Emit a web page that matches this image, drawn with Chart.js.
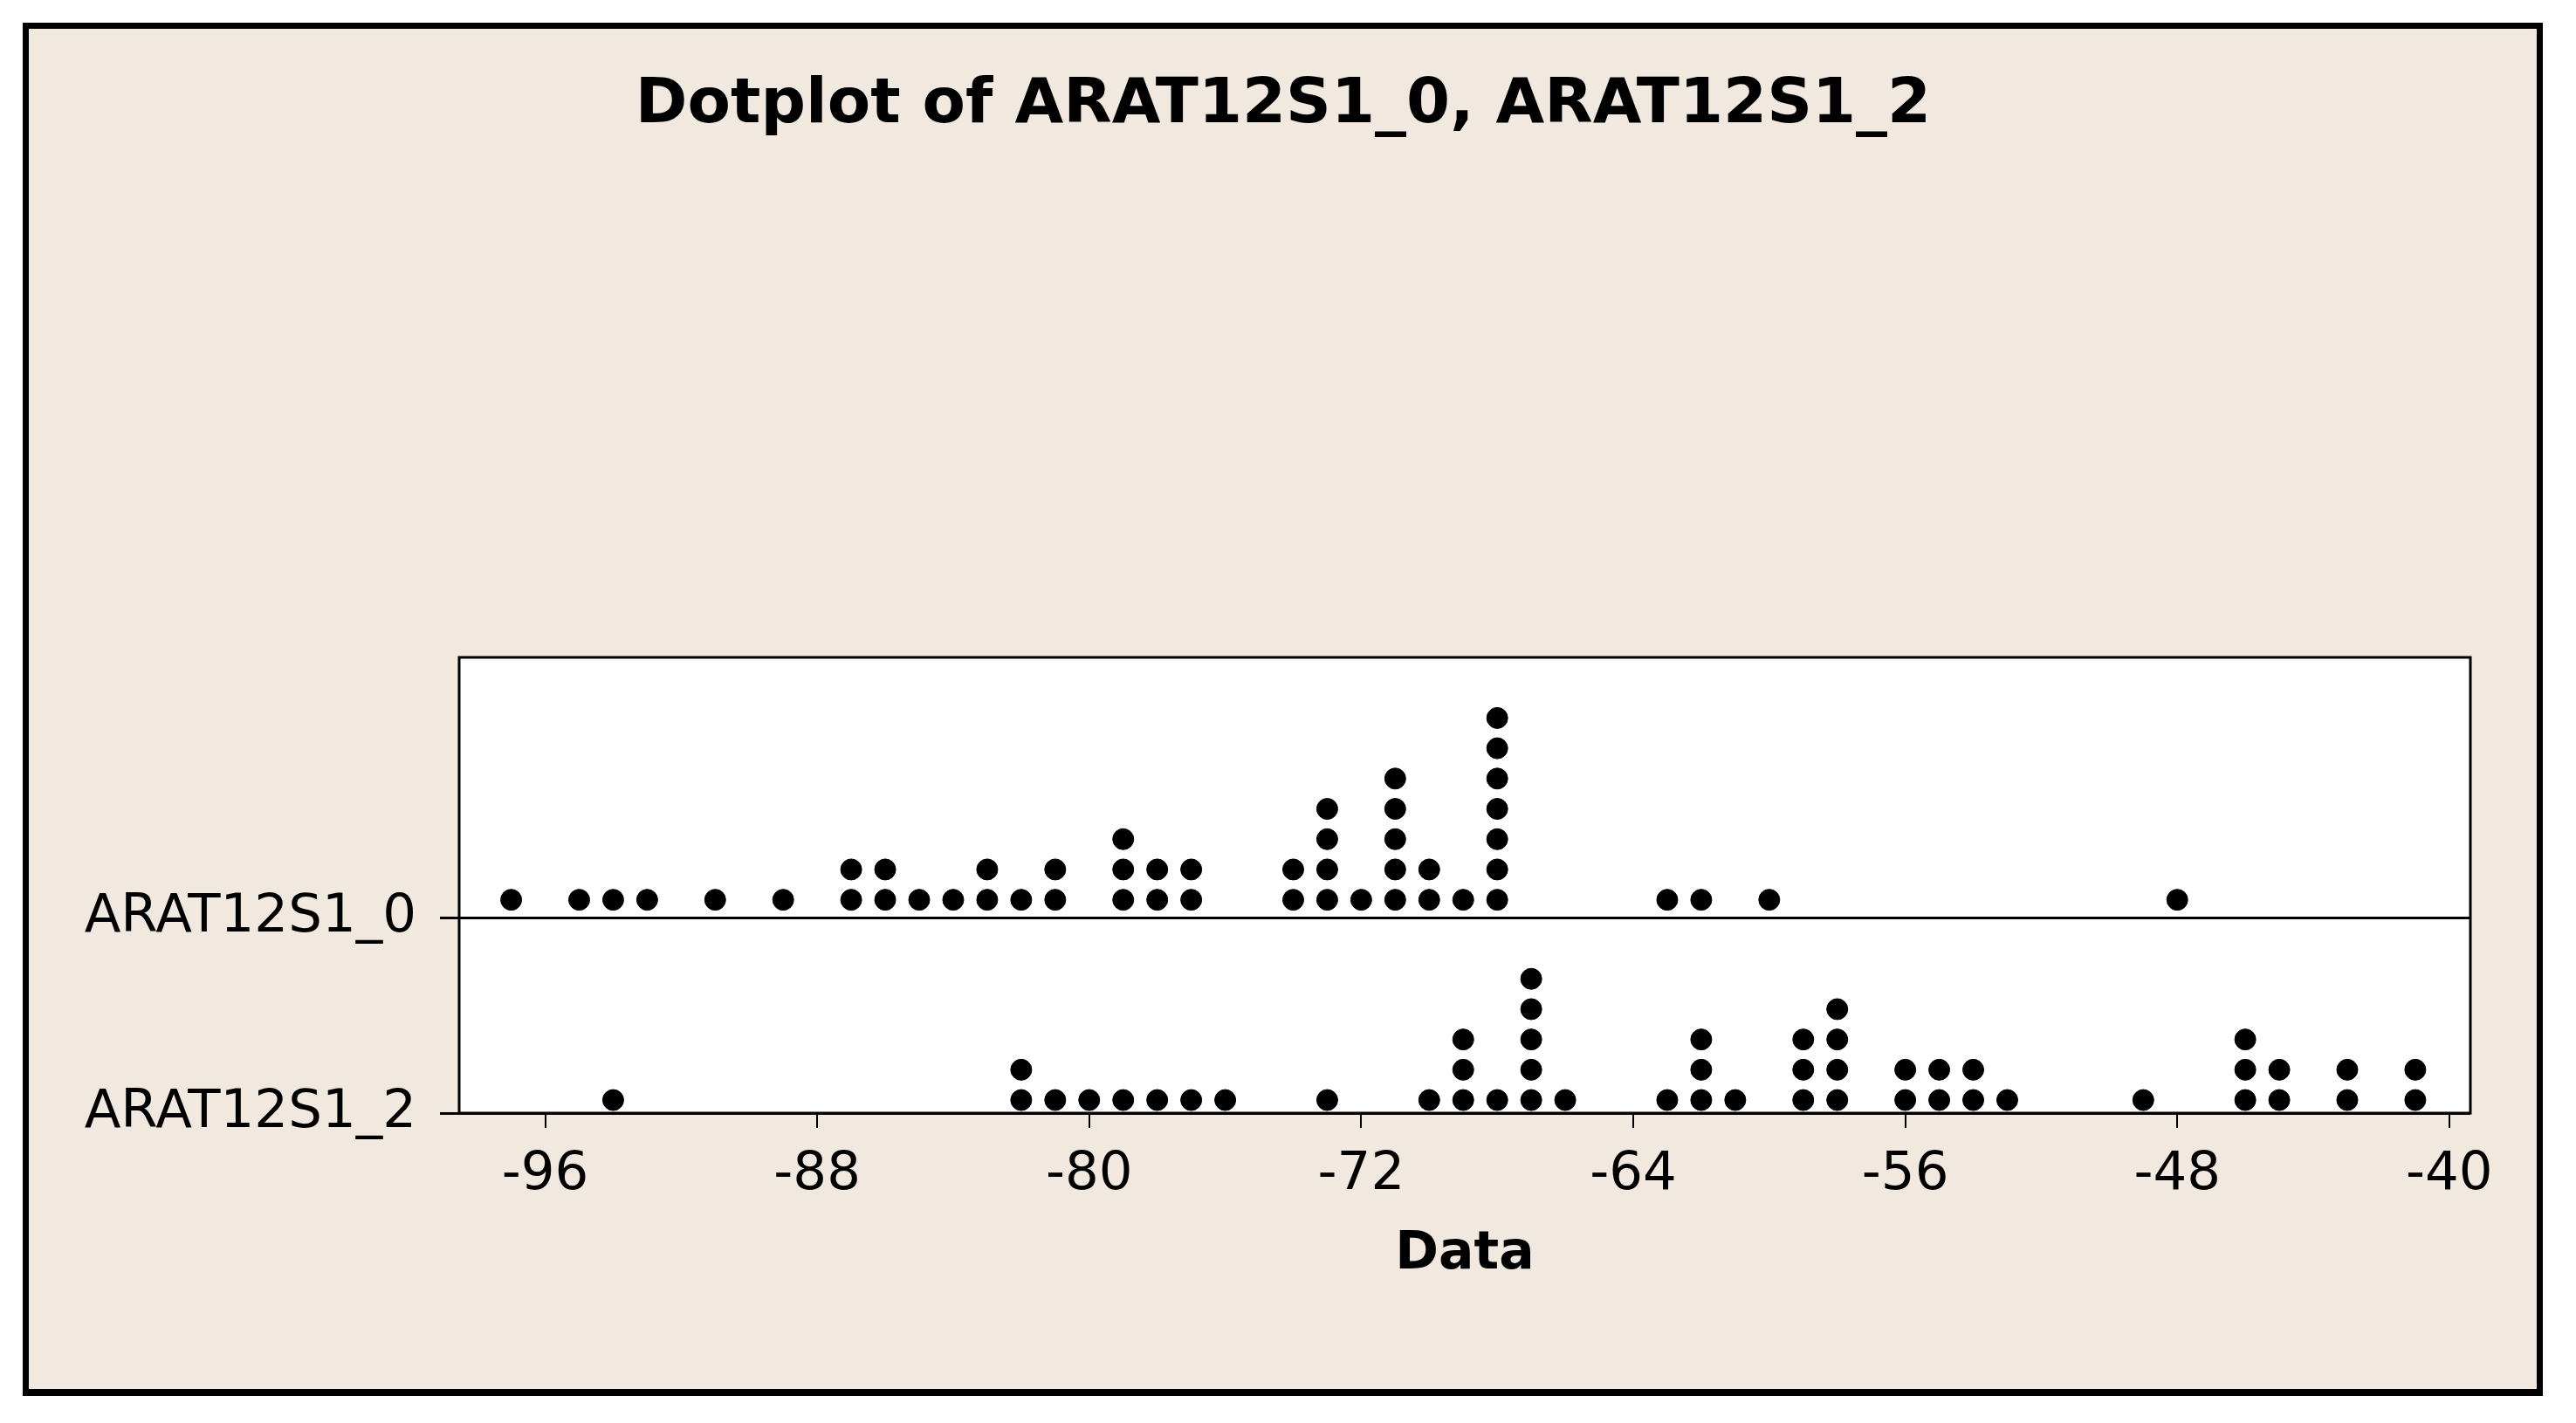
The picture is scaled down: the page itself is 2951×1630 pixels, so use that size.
<!DOCTYPE html>
<html>
<head>
<meta charset="utf-8">
<title>Dotplot of ARAT12S1_0, ARAT12S1_2</title>
<script src="https://cdn.jsdelivr.net/npm/chart.js@4.4.0/dist/chart.umd.min.js"></script>
<style>
  html, body { margin: 0; padding: 0; background: #fff; overflow: hidden; }
  #wrap { width: 2951px; height: 1630px; }
</style>
</head>
<body>
<div id="wrap"><canvas id="dotplot"></canvas></div>
<script>
  // data (one entry per dot)
  const categories = ["ARAT12S1_0", "ARAT12S1_2"];
  const arat0 = [
    -97, -95, -94, -93, -91, -89, -87, -87, -86, -86, -85, -84, -83, -83, -82,
    -81, -81, -79, -79, -79, -78, -78, -77, -77, -74, -74, -73, -73, -73, -73,
    -72, -71, -71, -71, -71, -71, -70, -70, -69, -68, -68, -68, -68, -68, -68,
    -68, -63, -62, -60, -48
  ];
  const arat2 = [
    -94, -82, -82, -81, -80, -79, -78, -77, -76, -73, -70, -69, -69, -69, -68,
    -67, -67, -67, -67, -67, -66, -63, -62, -62, -62, -61, -59, -59, -59, -58,
    -58, -58, -58, -56, -56, -55, -55, -54, -54, -53, -49, -46, -46, -46, -45,
    -45, -43, -43, -41, -41
  ];
  const xTicks = [-96, -88, -80, -72, -64, -56, -48, -40];
  const xTitle = "Data";
  const chartTitle = "Dotplot of ARAT12S1_0, ARAT12S1_2";

  // layout of the panel (y measured in dot steps)
  const X_MIN = -98.53, X_MAX = -39.38;
  const Y_MAX = 15.04;
  const ROW_BASE = [6.44, 0];
  const DOT_LIFT = [0.6, 0.43];
  const FONT = "'DejaVu Sans', Verdana, sans-serif";

  function stackDots(values, row){
    const seen = {};
    return values.map(v => {
      const k = seen[v] || 0;
      seen[v] = k + 1;
      return { x: v, y: ROW_BASE[row] + DOT_LIFT[row] + k };
    });
  }

  const framePlugin = {
    id: "frame",
    afterLayout(chart){
      // centre the title on the whole frame, not on the padded area
      if (chart.titleBlock) {
        chart.titleBlock.left = 0;
        chart.titleBlock.right = 2940;
      }
    },
    beforeDraw(chart){
      const { ctx, width, height, chartArea: a } = chart;
      ctx.save();
      ctx.fillStyle = "#fff";
      ctx.fillRect(0, 0, width, height);
      ctx.fillStyle = "#000";
      ctx.fillRect(26, 26, 2887, 1573);
      ctx.fillStyle = "#F1E9E0";
      ctx.fillRect(33, 33, 2873, 1558);
      ctx.fillStyle = "#fff";
      ctx.fillRect(a.left, a.top, a.right - a.left, a.bottom - a.top);
      ctx.restore();
    },
    beforeDatasetsDraw(chart){
      const { ctx, chartArea: a } = chart;
      ctx.save();
      ctx.strokeStyle = "#000";
      ctx.lineWidth = 3;
      ctx.strokeRect(a.left, a.top, a.right - a.left, a.bottom - a.top);
      ctx.restore();
    }
  };

  const dotStyle = {
    backgroundColor: "#000",
    borderColor: "#000",
    pointRadius: 12,
    pointBorderWidth: 1,
    pointHoverRadius: 12
  };

  new Chart(document.getElementById("dotplot"), {
    type: "scatter",
    data: {
      datasets: [
        Object.assign({ label: categories[0], data: stackDots(arat0, 0) }, dotStyle),
        Object.assign({ label: categories[1], data: stackDots(arat2, 1) }, dotStyle)
      ]
    },
    options: {
      responsive: true,
      maintainAspectRatio: false,
      animation: false,
      events: [],
      layout: { padding: { left: 0, right: 121, top: 0, bottom: 0 } },
      plugins: {
        legend: { display: false },
        tooltip: { enabled: false },
        title: {
          display: true,
          text: chartTitle,
          color: "#000",
          font: { family: FONT, size: 72, weight: "bold" },
          padding: { top: 78, bottom: 588.6 }
        }
      },
      scales: {
        x: {
          type: "linear",
          min: X_MIN,
          max: X_MAX,
          afterBuildTicks: s => { s.ticks = xTicks.map(v => ({ value: v })); },
          afterFit: s => { s.height = 355; },
          ticks: {
            color: "#000",
            font: { family: FONT, size: 61 },
            padding: 18,
            autoSkip: false,
            maxRotation: 0,
            callback: v => String(v)
          },
          grid: { drawOnChartArea: false, tickLength: 17, color: "#000", lineWidth: 2 },
          border: { display: false },
          title: {
            display: true,
            text: xTitle,
            color: "#000",
            font: { family: FONT, size: 60, weight: "bold" },
            padding: { top: 0, bottom: 157 }
          }
        },
        y: {
          type: "linear",
          min: 0,
          max: Y_MAX,
          afterBuildTicks: s => { s.ticks = ROW_BASE.map(v => ({ value: v })); },
          afterFit: s => { s.width = 526; },
          ticks: {
            color: "#000",
            font: { family: FONT, size: 61 },
            padding: 27,
            callback: v => categories[ROW_BASE.indexOf(v)]
          },
          grid: { color: "#000", lineWidth: 3, tickLength: 22 },
          border: { display: false }
        }
      }
    },
    plugins: [framePlugin]
  });
</script>
</body>
</html>
